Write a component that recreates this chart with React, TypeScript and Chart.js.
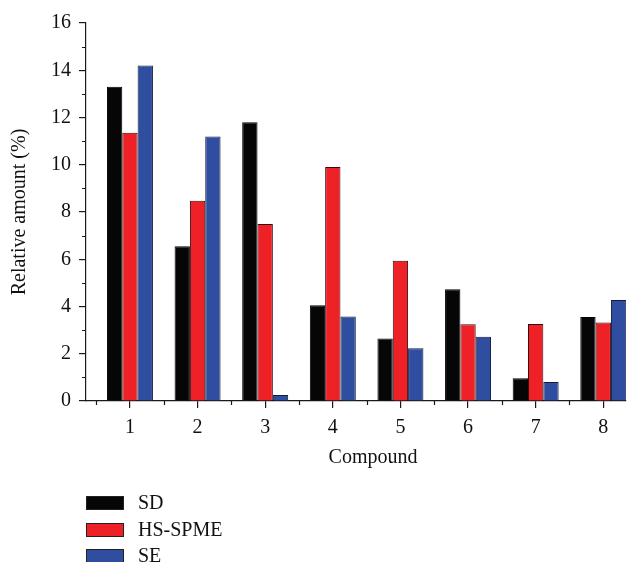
import React, { useEffect, useRef } from "react";
import { Chart, registerables } from "chart.js";

Chart.register(...registerables);

const categories = [1, 2, 3, 4, 5, 6, 7, 8];
const seriesNames = ["SD", "HS-SPME", "SE"];
const sdValues = [13.3, 6.55, 11.8, 4.05, 2.65, 4.73, 0.96, 3.56];
const hsValues = [11.35, 8.48, 7.49, 9.9, 5.94, 3.25, 3.26, 3.32];
const seValues = [14.2, 11.2, 0.25, 3.58, 2.23, 2.72, 0.8, 4.27];
const yTicks = [0, 2, 4, 6, 8, 10, 12, 14, 16];
const yMinorTicks = [1, 3, 5, 7, 9, 11, 13, 15];
const xMinorTicks = [0.5, 1.5, 2.5, 3.5, 4.5, 5.5, 6.5, 7.5];

const colors = ["#060606", "#ee2126", "#2f4ea0"];
const borders = ["#000000", "#3a0a0a", "#141a3a"];
const FONT = "'Liberation Serif', 'DejaVu Serif', serif";

const extrasPlugin = {
  id: "extras",
  afterDraw(chart: any) {
    const ctx = chart.ctx;
    const xs = chart.scales.x;
    const ys = chart.scales.y;
    const area = chart.chartArea;
    ctx.save();
    ctx.strokeStyle = "#1a1a1a";
    ctx.lineWidth = 1.2;
    ctx.beginPath();
    xMinorTicks.forEach((v) => {
      const px = Math.round(xs.getPixelForValue(v)) + 0.5;
      if (px >= area.left && px <= area.right) {
        ctx.moveTo(px, area.bottom);
        ctx.lineTo(px, area.bottom + 4);
      }
    });
    yMinorTicks.forEach((v) => {
      const py = Math.round(ys.getPixelForValue(v)) + 0.5;
      ctx.moveTo(area.left, py);
      ctx.lineTo(area.left - 4, py);
    });
    ctx.stroke();

    // x title
    ctx.fillStyle = "#111";
    ctx.font = `20px ${FONT}`;
    ctx.textAlign = "center";
    ctx.textBaseline = "middle";
    ctx.fillText("Compound", 373, 458);

    // legend
    const rows = [503, 530, 556];
    chart.data.datasets.forEach((ds: any, i: number) => {
      const cy = rows[i];
      ctx.fillStyle = ds.backgroundColor;
      ctx.fillRect(86, cy - 7, 38, 14);
      ctx.strokeStyle = "#222";
      ctx.lineWidth = 1;
      ctx.strokeRect(86.5, cy - 6.5, 37, 13);
      ctx.fillStyle = "#111";
      ctx.textAlign = "left";
      ctx.textBaseline = "middle";
      ctx.font = `20px ${FONT}`;
      ctx.fillText(ds.label, 138, cy + 1);
    });
    ctx.restore();
  },
};

export default function App() {
  const ref = useRef<HTMLCanvasElement | null>(null);
  useEffect(() => {
    if (!ref.current) return;
    const series = [sdValues, hsValues, seValues];
    const chart = new Chart(ref.current, {
      type: "bar",
      data: {
        datasets: series.map((vals, i) => ({
          label: seriesNames[i],
          data: categories.map((c, j) => ({ x: c, y: vals[j] })),
          backgroundColor: colors[i],
          borderColor: borders[i],
          borderWidth: 1,
          categoryPercentage: 0.68,
          barPercentage: 1,
        })),
      },
      options: {
        responsive: false,
        animation: false,
        devicePixelRatio: 1,
        layout: { padding: { top: 23, right: 6, bottom: 91, left: 0 } },
        plugins: { legend: { display: false }, tooltip: { enabled: false } },
        scales: {
          x: {
            type: "linear",
            min: 0.35,
            max: 8.336,
            offset: false,
            afterBuildTicks: (s: any) => {
              s.ticks = categories.map((v) => ({ value: v }));
            },
            afterFit: (s: any) => {
              s.height = 70;
            },
            grid: {
              display: true,
              offset: false,
              drawOnChartArea: false,
              drawTicks: true,
              tickLength: 7,
              color: "#1a1a1a",
              lineWidth: 1.2,
            },
            border: { display: true, color: "#1a1a1a", width: 1.2 },
            ticks: {
              autoSkip: false,
              maxRotation: 0,
              padding: 8,
              color: "#111",
              font: { family: FONT, size: 20 },
              callback: (v: any) => String(v),
            },
          },
          y: {
            min: 0,
            max: 16,
            afterBuildTicks: (s: any) => {
              s.ticks = yTicks.map((v) => ({ value: v }));
            },
            afterFit: (s: any) => {
              s.width = 86;
            },
            grid: {
              display: true,
              drawOnChartArea: false,
              drawTicks: true,
              tickLength: 7,
              color: "#1a1a1a",
              lineWidth: 1.2,
            },
            border: { display: true, color: "#1a1a1a", width: 1.2 },
            ticks: {
              padding: 8,
              color: "#111",
              font: { family: FONT, size: 20 },
            },
            title: {
              display: true,
              text: "Relative amount (%)",
              color: "#111",
              font: { family: FONT, size: 20 },
              padding: { top: 8, bottom: 0 },
            },
          },
        },
      },
      plugins: [extrasPlugin],
    } as any);
    return () => chart.destroy();
  }, []);
  return (
    <div style={{ position: "absolute", left: 0, top: 0, width: 632, height: 562, background: "#fff" }}>
      <canvas ref={ref} width={632} height={562} />
    </div>
  );
}
